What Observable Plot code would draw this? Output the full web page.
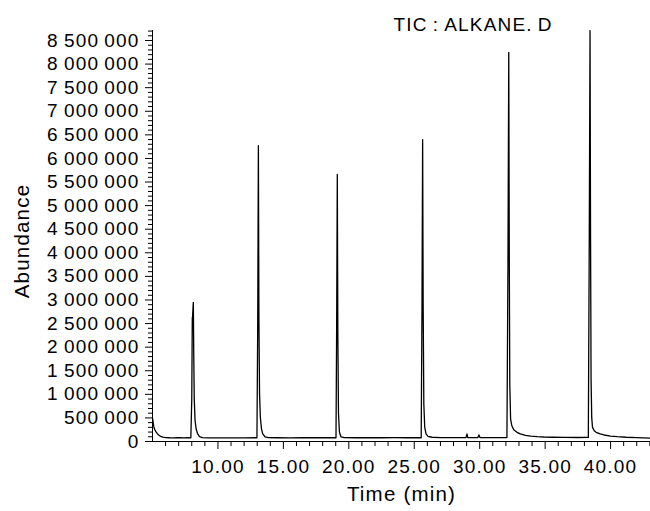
<!DOCTYPE html>
<html>
<head>
<meta charset="utf-8">
<script src="https://cdn.jsdelivr.net/npm/d3@7"></script>
<script src="https://cdn.jsdelivr.net/npm/@observablehq/plot@0.6"></script>
<style>
  html, body { margin: 0; padding: 0; background: #fff; }
  #chart svg { display: block; }
  #chart svg text { letter-spacing: 1.2px; }
</style>
</head>
<body>
<div id="chart"></div>
<script>
const chartTitle = "TIC\u2009:\u2009ALKANE.\u2009D";
const xLabel = "Time (min)";
const yLabel = "Abundance";

const xTicks = [10, 15, 20, 25, 30, 35, 40];
const yTicks = [0, 500000, 1000000, 1500000, 2000000, 2500000, 3000000, 3500000, 4000000,
  4500000, 5000000, 5500000, 6000000, 6500000, 7000000, 7500000, 8000000, 8500000];

// retention time (min)
const times = [
  5.00, 5.05, 5.10, 5.18, 5.26, 5.37, 5.50, 5.62, 5.80, 6.00, 6.30, 6.60, 6.90, 7.10, 7.40, 7.70, 7.93,
  8.00, 8.04, 8.05, 8.06, 8.07, 8.12, 8.15, 8.19, 8.25, 8.33, 8.45, 8.60, 8.80, 9.20, 10.0, 11.0, 12.0, 12.98,
  13.04, 13.09, 13.13, 13.18, 13.24, 13.32, 13.42, 13.60, 13.85, 14.5, 15.5, 16.5, 17.5, 18.5, 19.02,
  19.07, 19.12, 19.16, 19.21, 19.28, 19.40, 19.65, 20.5, 21.5, 22.5, 23.5, 24.5, 25.53,
  25.59, 25.64, 25.68, 25.73, 25.80, 25.90, 26.05, 26.35, 27.0, 28.0, 28.95, 29.03, 29.08, 29.85, 29.94, 30.02, 31.0, 32.08,
  32.16, 32.22, 32.26, 32.30, 32.36, 32.45, 32.60, 32.85, 33.10, 33.50, 33.90, 34.40, 34.90, 35.60, 36.50, 37.50, 38.30,
  38.37, 38.43, 38.47, 38.51, 38.56, 38.62, 38.75, 38.90, 39.20, 39.50, 40.00, 40.50, 41.20, 42.00, 43.05
];
// abundance
const abundance = [
  500000, 400000, 310000, 250000, 210000, 165000, 130000, 110000, 92000, 84000, 80000, 78000, 82000, 80000, 77000, 79000, 78000,
  900000, 2600000, 2640000, 2600000, 2700000, 2950000, 1900000, 900000, 450000, 270000, 160000, 105000, 82000, 76000, 76000, 77000, 76000, 80000,
  2500000, 6270000, 2600000, 1000000, 520000, 280000, 160000, 100000, 84000, 80000, 78000, 80000, 79000, 80000, 80000,
  2400000, 5660000, 2300000, 600000, 200000, 100000, 84000, 80000, 79000, 80000, 82000, 80000, 80000,
  2800000, 6400000, 2900000, 800000, 300000, 160000, 110000, 90000, 84000, 82000, 82000, 160000, 85000, 82000, 140000, 84000, 82000, 84000,
  3800000, 8250000, 3900000, 1200000, 480000, 340000, 250000, 195000, 160000, 130000, 115000, 102000, 95000, 90000, 86000, 85000, 86000,
  4200000, 8710000, 4300000, 1300000, 500000, 300000, 230000, 195000, 160000, 138000, 115000, 102000, 90000, 82000, 70000
];

const data = times.map((t, i) => ({t, v: abundance[i]}));
const xMinor = d3.range(6, 44, 1).filter(d => !xTicks.includes(d));
const yMinor = d3.range(0, 8700001, 100000).filter(d => d % 500000 !== 0);

const fmtY = d => d === 0 ? "0" : d3.format(",")(d).replace(/,/g, "\u2009");

const font = "'Liberation Sans', Arial, Helvetica, sans-serif";

const plot = Plot.plot({
  width: 650,
  height: 511,
  marginLeft: 152,
  marginRight: 0,
  marginTop: 30,
  marginBottom: 70,
  style: {fontFamily: font, fontSize: "19px", color: "#000", background: "#fff", overflow: "visible"},
  x: {domain: [5, 43.05]},
  y: {domain: [0, 8712000]},
  marks: [
    Plot.axisY(yMinor, {tickSize: 4, fill: "none", label: null, stroke: "#000"}),
    Plot.axisY(yTicks, {tickSize: 7, tickPadding: 6, tickFormat: fmtY, label: null, stroke: "#000", fill: "#000", fontSize: 19}),
    Plot.axisX(xMinor, {tickSize: 5, fill: "none", label: null, stroke: "#000"}),
    Plot.axisX(xTicks, {tickSize: 8, tickPadding: 10, tickFormat: d => d.toFixed(2), label: null, stroke: "#000", fill: "#000", fontSize: 19}),
    Plot.ruleX([5], {stroke: "#000", strokeWidth: 1}),
    Plot.ruleY([0], {stroke: "#000", strokeWidth: 1}),
    Plot.line(data, {x: "t", y: "v", stroke: "#000", strokeWidth: 1.3, curve: "linear"}),
    Plot.text([yLabel], {text: d => d, frameAnchor: "left", textAnchor: "middle", lineAnchor: "middle", rotate: -90, dx: -130, dy: 5, fontSize: 20.5, fill: "#000"}),
    Plot.text([xLabel], {text: d => d, frameAnchor: "bottom", lineAnchor: "middle", dy: 53, fontSize: 20.5, fill: "#000"}),
    Plot.text([chartTitle], {text: d => d, frameAnchor: "top-left", textAnchor: "start", lineAnchor: "middle", dx: 241, dy: -6, fontSize: 19, fill: "#000"})
  ]
});
document.getElementById("chart").appendChild(plot);
</script>
</body>
</html>
